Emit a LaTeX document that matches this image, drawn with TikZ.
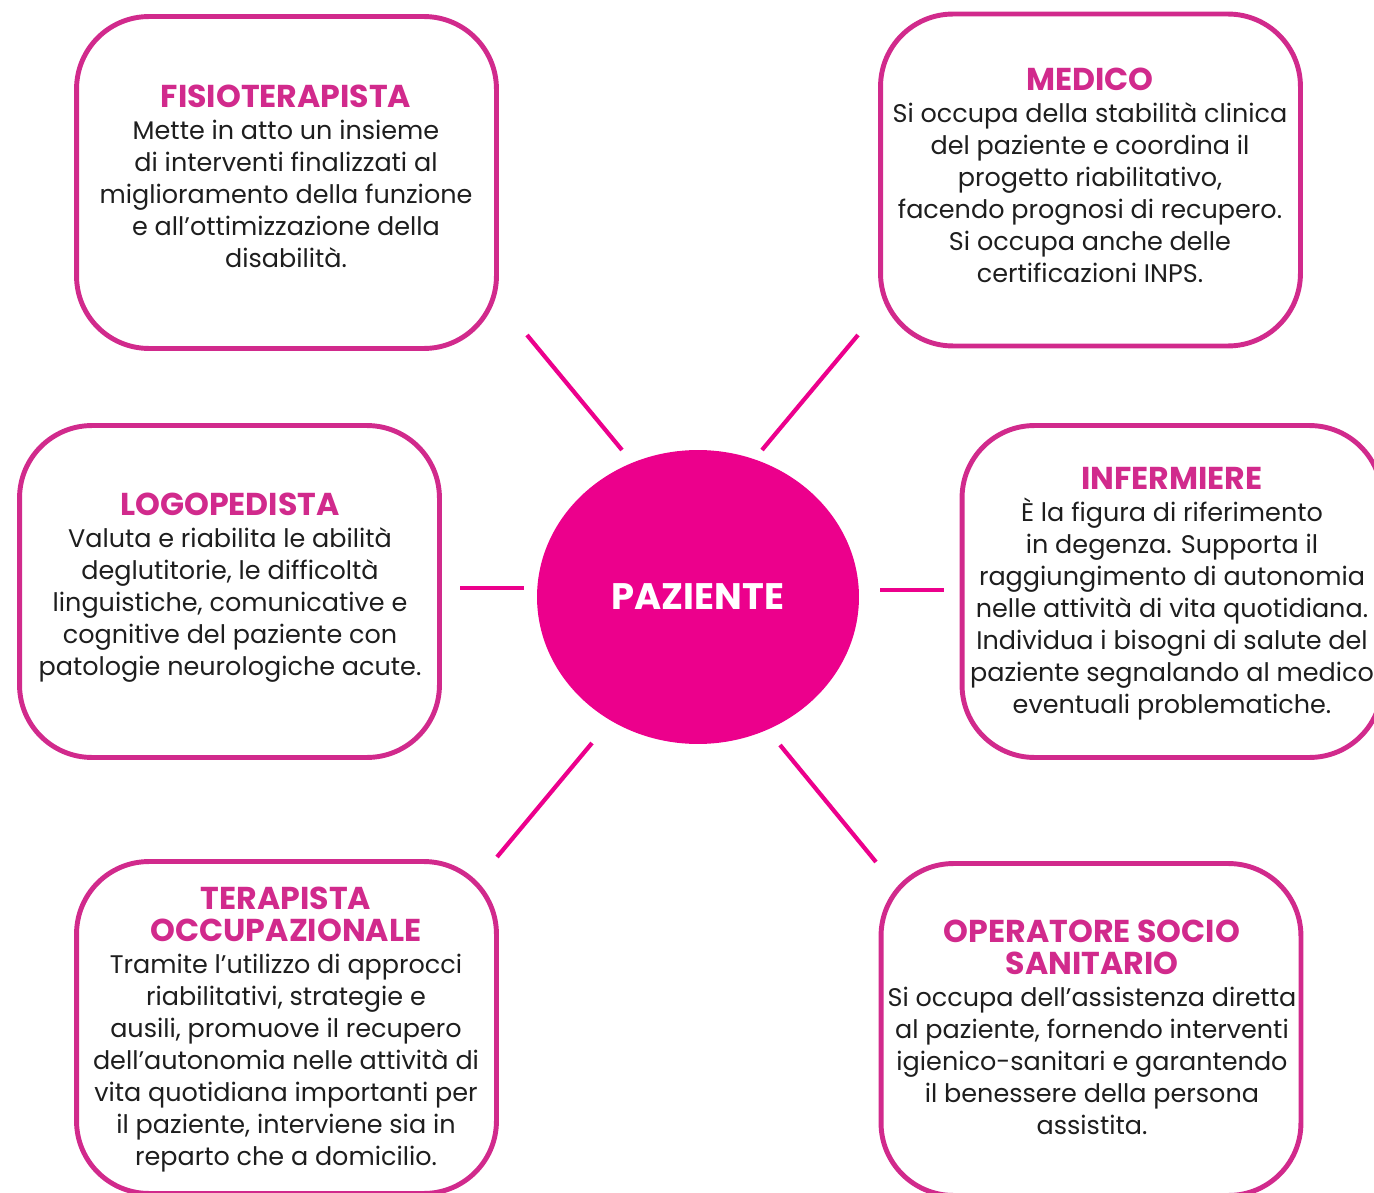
\documentclass[tikz,border=0pt]{standalone}
\usepackage{fontspec}
\setmainfont{Poppins}
\usepackage{xcolor}
\usepackage{tikz}
\usetikzlibrary{shapes.geometric, positioning, calc}
\definecolor{framepink}{HTML}{D12A8C}
\definecolor{hubpink}{HTML}{EC008C}
\definecolor{inkgrey}{HTML}{1E1E1E}

\begin{document}
\begin{tikzpicture}[x=0.02cm, y=-0.02cm,
  rolebox/.style={draw=framepink, line width=2.8pt, rounded corners=1.45cm,
    minimum width=8.4cm, minimum height=6.64cm, inner sep=0pt},
  roletext/.style={anchor=north, align=center, text=inkgrey,
    font=\fontsize{14.5}{18.2}\selectfont},
  spoke/.style={draw=hubpink, line width=2.4pt}]
  \useasboundingbox (0,0) rectangle (1374,1193);

  % the six roles
  \node[rolebox] (fisio)  at (286.5,182.5) {};
  \node[rolebox] (medico) at (1090.5,180) {};
  \node[rolebox] (logo)   at (229.5,591.5) {};
  \node[rolebox] (infer)  at (1172,591.5) {};
  \node[rolebox] (terap)  at (286.5,1027.5) {};
  \node[rolebox] (oper)   at (1091,1029.5) {};

  \newcommand{\roletitle}[1]{{\color{framepink}\bfseries\fontsize{18}{18.2}\selectfont #1}}

  \node[roletext] (fisiotxt) at (286,79) {\roletitle{FISIOTERAPISTA}\\
    Mette in atto un insieme\\ di interventi finalizzati al\\
    miglioramento della funzione\\ e all’ottimizzazione della\\ disabilità.};
  \node[roletext] (medicotxt) at (1090,62) {\roletitle{MEDICO}\\
    Si occupa della stabilità clinica\\ del paziente e coordina il\\
    progetto riabilitativo,\\ facendo prognosi di recupero.\\
    Si occupa anche delle\\ certificazioni INPS.};
  \node[roletext] (logotxt) at (230,487) {\roletitle{LOGOPEDISTA}\\
    Valuta e riabilita le abilità\\ deglutitorie, le difficoltà\\
    linguistiche, comunicative e\\ cognitive del paziente con\\
    patologie neurologiche acute.};
  \node[roletext] (infertxt) at (1172,461) {\roletitle{INFERMIERE}\\
    È la figura di riferimento\\ in degenza. Supporta il\\
    raggiungimento di autonomia\\ nelle attività di vita quotidiana.\\
    Individua i bisogni di salute del\\ paziente segnalando al medico\\
    eventuali problematiche.};
  \node[roletext] (teraptxt) at (286,881) {\roletitle{TERAPISTA}\\ \roletitle{OCCUPAZIONALE}\\
    Tramite l’utilizzo di approcci\\ riabilitativi, strategie e\\
    ausili, promuove il recupero\\ dell’autonomia nelle attività di\\
    vita quotidiana importanti per\\ il paziente, interviene sia in\\
    reparto che a domicilio.};
  \node[roletext] (opertxt) at (1092,914) {\roletitle{OPERATORE SOCIO}\\ \roletitle{SANITARIO}\\
    Si occupa dell’assistenza diretta\\ al paziente, fornendo interventi\\
    igienico-sanitari e garantendo\\ il benessere della persona\\ assistita.};

  % centre
  \node[ellipse, fill=hubpink, minimum width=6.44cm, minimum height=5.88cm,
    text=white, font=\bfseries\fontsize{21}{22}\selectfont] (paziente) at (698,597) {PAZIENTE};

  % spokes
  \coordinate (s1a) at (527,335);  \coordinate (s1b) at (622,450);
  \coordinate (s2a) at (858,335);  \coordinate (s2b) at (762,450);
  \coordinate (s3a) at (460,588);  \coordinate (s3b) at (524,588);
  \coordinate (s4a) at (880,590);  \coordinate (s4b) at (944,590);
  \coordinate (s5a) at (592,743);  \coordinate (s5b) at (497,857);
  \coordinate (s6a) at (780,745);  \coordinate (s6b) at (876,862);
  \draw[spoke] (s1a) -- (s1b);
  \draw[spoke] (s2a) -- (s2b);
  \draw[spoke] (s3a) -- (s3b);
  \draw[spoke] (s4a) -- (s4b);
  \draw[spoke] (s5a) -- (s5b);
  \draw[spoke] (s6a) -- (s6b);
\end{tikzpicture}
\end{document}
